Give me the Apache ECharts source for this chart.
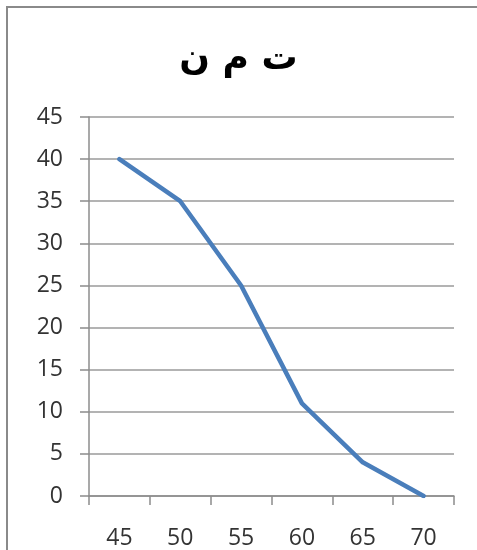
<!DOCTYPE html>
<html>
<head>
<meta charset="utf-8">
<script src="https://cdn.jsdelivr.net/npm/echarts@6/dist/echarts.min.js"></script>
<style>
  html, body { margin: 0; padding: 0; background: #ffffff; }
  #chart { width: 477px; height: 550px; }
</style>
</head>
<body>
<div id="chart"></div>
<script>
// Chart title and category labels
const titleText = 'ت م ن';
const categories = ['45', '50', '55', '60', '65', '70'];
// Series values
const values = [40, 35, 25, 11, 4, 0];
// Value axis range
const yMin = 0;
const yMax = 45;
const yStep = 5;

const chart = echarts.init(document.getElementById('chart'), null, { renderer: 'canvas' });

const labelFont = { fontFamily: 'Open Sans', fontSize: 23, color: '#333333' };

chart.setOption({
  animation: false,
  backgroundColor: '#ffffff',
  title: {
    text: titleText,
    left: 'center',
    top: 37,
    textStyle: { fontFamily: 'DejaVu Sans', fontSize: 36, fontWeight: 'bold', color: '#000000' }
  },
  graphic: [{
    type: 'rect',
    shape: { x: 7, y: 7, width: 500, height: 600 },
    style: { fill: 'none', stroke: '#8a8a8a', lineWidth: 2 },
    silent: true
  }],
  grid: { left: 89, right: 23, top: 117, bottom: 50 },
  xAxis: {
    type: 'category',
    data: categories,
    boundaryGap: true,
    axisLine: { lineStyle: { color: '#8c8c8c', width: 1.5 } },
    axisTick: { show: true, length: 9, alignWithLabel: false, lineStyle: { color: '#8c8c8c', width: 1.5 } },
    axisLabel: Object.assign({ margin: 31 }, labelFont),
    splitLine: { show: false }
  },
  yAxis: {
    type: 'value',
    min: yMin,
    max: yMax,
    interval: yStep,
    axisLine: { show: true, lineStyle: { color: '#8c8c8c', width: 1.5 } },
    axisTick: { show: true, length: 9, lineStyle: { color: '#8c8c8c', width: 1.5 } },
    axisLabel: Object.assign({ margin: 26 }, labelFont),
    splitLine: { show: true, lineStyle: { color: '#9a9a9a', width: 1.5 } }
  },
  series: [{
    type: 'line',
    data: values,
    symbol: 'none',
    lineStyle: { color: '#4a7ebb', width: 4.5, join: 'round', cap: 'round' }
  }]
});
</script>
</body>
</html>
